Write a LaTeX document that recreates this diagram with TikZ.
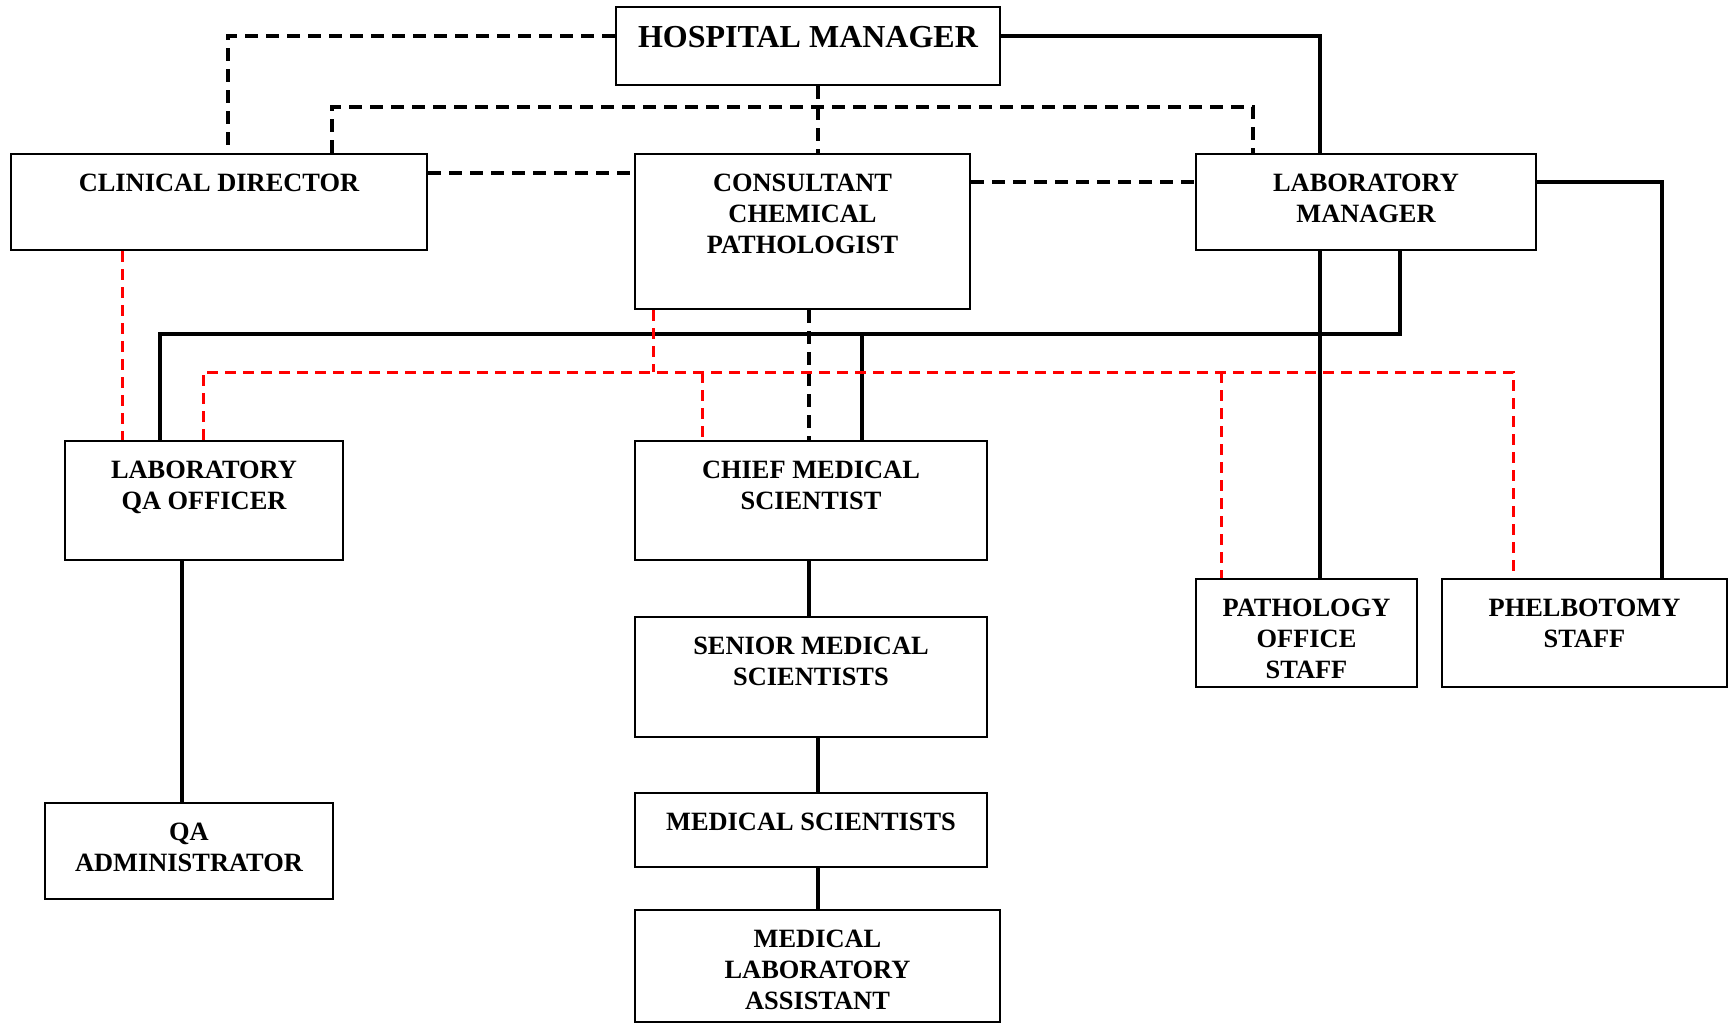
\documentclass[tikz,border=0pt]{standalone}
\usepackage{fontspec}
\setmainfont{Liberation Serif}
\usepackage{xcolor}

\tikzset{
	orgbox/.style={draw, line width=1.1pt, inner sep=0pt},
	orglabel/.style={align=center, inner sep=0pt, font=\bfseries\fontsize{13.2}{15.5}\selectfont},
	conn/.style={line width=1.7pt},
	bdash/.style={line width=1.7pt, dash pattern=on 6.5pt off 4pt},
	rdash/.style={line width=1.5pt, red, dash pattern=on 5.5pt off 3.5pt}
}

\begin{document}
\begin{tikzpicture}[x=0.5pt, y=-0.5pt]
	\useasboundingbox (0,0) rectangle (1729,1023);
	\foreach \N/\XA/\YA/\XB/\YB/\T in {cd/11/154/427/250/{CLINICAL DIRECTOR},
		ccp/635/154/970/309/{CONSULTANT\\CHEMICAL\\PATHOLOGIST},
		lm/1196/154/1536/250/{LABORATORY\\MANAGER},
		lqa/65/441/343/560/{LABORATORY\\QA OFFICER},
		cms/635/441/987/560/{CHIEF MEDICAL\\SCIENTIST},
		pos/1196/579/1417/687/{PATHOLOGY\\OFFICE\\STAFF},
		ps/1442/579/1727/687/{PHELBOTOMY\\STAFF},
		sms/635/617/987/737/{SENIOR MEDICAL\\SCIENTISTS},
		ms/635/793/987/867/{MEDICAL SCIENTISTS},
		mla/635/910/1000/1022/{MEDICAL\\LABORATORY\\ASSISTANT},
		qaa/45/803/333/899/{QA\\ADMINISTRATOR}}
	{
		\node[orgbox, minimum width={(\XB-\XA)*0.5pt}, minimum height={(\YB-\YA)*0.5pt}] (\N) at ({(\XA+\XB)/2},{(\YA+\YB)/2}) {};
		\node[orglabel, anchor=north] (\N-t) at ([yshift=-10.2pt]\N.north) {\T};
	}
	\node[orgbox, minimum width=192pt, minimum height=39.2pt] (hm) at (808,45.8) {};
	\node[orglabel, anchor=north, font=\bfseries\fontsize{16}{18}\selectfont] (hm-t) at ([yshift=-10.2pt]hm.north) {HOSPITAL MANAGER};

	\draw[bdash] (hm.west |- 0,36) -| (228,0 |- cd.north);
	\draw[bdash] (818,0 |- hm.south) -- (818,0 |- ccp.north);
	\draw[bdash] (332,0 |- cd.north) |- (1253,107) -- (1253,0 |- lm.north);
	\draw[bdash] (cd.east |- 0,173) -- (ccp.west |- 0,173);
	\draw[bdash] (ccp.east |- 0,182) -- (lm.west |- 0,182);
	\draw[bdash] (809,0 |- ccp.south) -- (809,0 |- cms.north);

	\draw[conn] (hm.east |- 0,36) -| (1320,0 |- lm.north);
	\draw[conn] (1320,0 |- lm.south) -- (1320,0 |- pos.north);
	\draw[conn] (lm.east |- 0,182) -| (1662,0 |- ps.north);
	\draw[conn] (1400,0 |- lm.south) |- (160,334) -- (160,0 |- lqa.north);
	\draw[conn] (862,334) -- (862,0 |- cms.north);
	\draw[conn] (182,0 |- lqa.south) -- (182,0 |- qaa.north);
	\draw[conn] (809,0 |- cms.south) -- (809,0 |- sms.north);
	\draw[conn] (818,0 |- sms.south) -- (818,0 |- ms.north);
	\draw[conn] (818,0 |- ms.south) -- (818,0 |- mla.north);

	\draw[rdash] (122,0 |- cd.south) -- (122,0 |- lqa.north);
	\draw[rdash] (653,0 |- ccp.south) -- (653,372);
	\draw[rdash] (203,0 |- lqa.north) |- (1513,372) -- (1513,0 |- ps.north);
	\draw[rdash] (702,372) -- (702,0 |- cms.north);
	\draw[rdash] (1221,372) -- (1221,0 |- pos.north);
\end{tikzpicture}
\end{document}
